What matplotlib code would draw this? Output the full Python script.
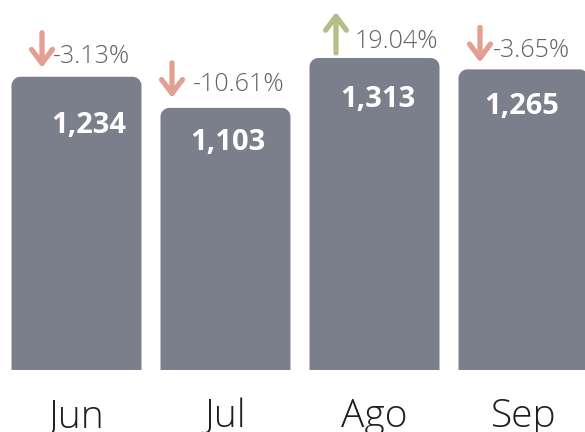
import numpy as np
import matplotlib.pyplot as plt
from matplotlib.path import Path
from matplotlib.patches import PathPatch

# Data
months = ['Jun', 'Jul', 'Ago', 'Sep']
totals = [1234, 1103, 1313, 1265]
changes = [-3.13, -10.61, 19.04, -3.65]

# Layout nudges in pixels (relative to bar centre / bar top)
value_dx = [12.5, 2.5, 3.5, -1.5]
value_drop = [56, 42, 49, 45]
pct_dx = [-23.5, -32.5, -19.5, -30.5]
pct_rise = [14, 17, 10, 12]
arrow_dx = [-34.5, -53.5, -38.5, -43.5]
arrow_gap = [9, 10, 5, 7]
arrow_len = [35, 35, 41, 35]

bar_color = '#7b7f8b'
down_color = '#e39f91'
up_color = '#b3bf86'

W, H = 585, 432
fig = plt.figure(figsize=(W / 100, H / 100), dpi=100)
ax = fig.add_axes([0, 0, 1, 1])
xmin, xmax = -0.5134, 3.4128
ymin, ymax = -261, 1557
ax.set_xlim(xmin, xmax)
ax.set_ylim(ymin, ymax)
ax.axis('off')

# data units per pixel
ux = (xmax - xmin) / W
uy = (ymax - ymin) / H
bw = 130 * ux
rad = 9  # corner radius, px


def top_rounded_bar(xc, height):
    # square bottom, rounded top corners
    left, right = xc - bw / 2, xc + bw / 2
    t = np.linspace(0, np.pi / 2, 12)
    rx, ry = rad * ux, rad * uy
    tr_x = right - rx + rx * np.cos(t)
    tr_y = height - ry + ry * np.sin(t)
    tl_x = left + rx - rx * np.cos(t[::-1])
    tl_y = height - ry + ry * np.sin(t[::-1])
    xs = np.concatenate([[left, right], tr_x, tl_x, [left]])
    ys = np.concatenate([[0, 0], tr_y, tl_y, [0]])
    return Path(np.column_stack([xs, ys]))


for i, v in enumerate(totals):
    ax.add_patch(PathPatch(top_rounded_bar(i, v), fc=bar_color, ec='none'))

    ax.text(i + value_dx[i] * ux, v - value_drop[i] * uy, f'{v:,}',
            ha='center', va='baseline', color='white', fontsize=21,
            fontweight='bold', family='Open Sans')

    ax.text(i + pct_dx[i] * ux, v + pct_rise[i] * uy, f'{changes[i]:.2f}%',
            ha='left', va='baseline', color='#626262', fontsize=18,
            fontweight='light', family='Open Sans')

    x_a = i + arrow_dx[i] * ux
    y0 = v + arrow_gap[i] * uy
    y1 = y0 + arrow_len[i] * uy
    if changes[i] < 0:
        tip, tail, col = y0, y1, down_color
    else:
        tip, tail, col = y1, y0, up_color
    ax.annotate('', xy=(x_a, tip), xytext=(x_a, tail),
                arrowprops=dict(arrowstyle='->,head_length=1.0,head_width=0.75',
                                mutation_scale=10, lw=3.8, color=col,
                                shrinkA=0, shrinkB=0, capstyle='round',
                                joinstyle='round'))

    ax.text(i, -57 * uy, months[i], ha='center', va='baseline', color='#1e1e1e',
            fontsize=28, fontweight='light', family='Open Sans')

fig.savefig('out.png', dpi=100)
